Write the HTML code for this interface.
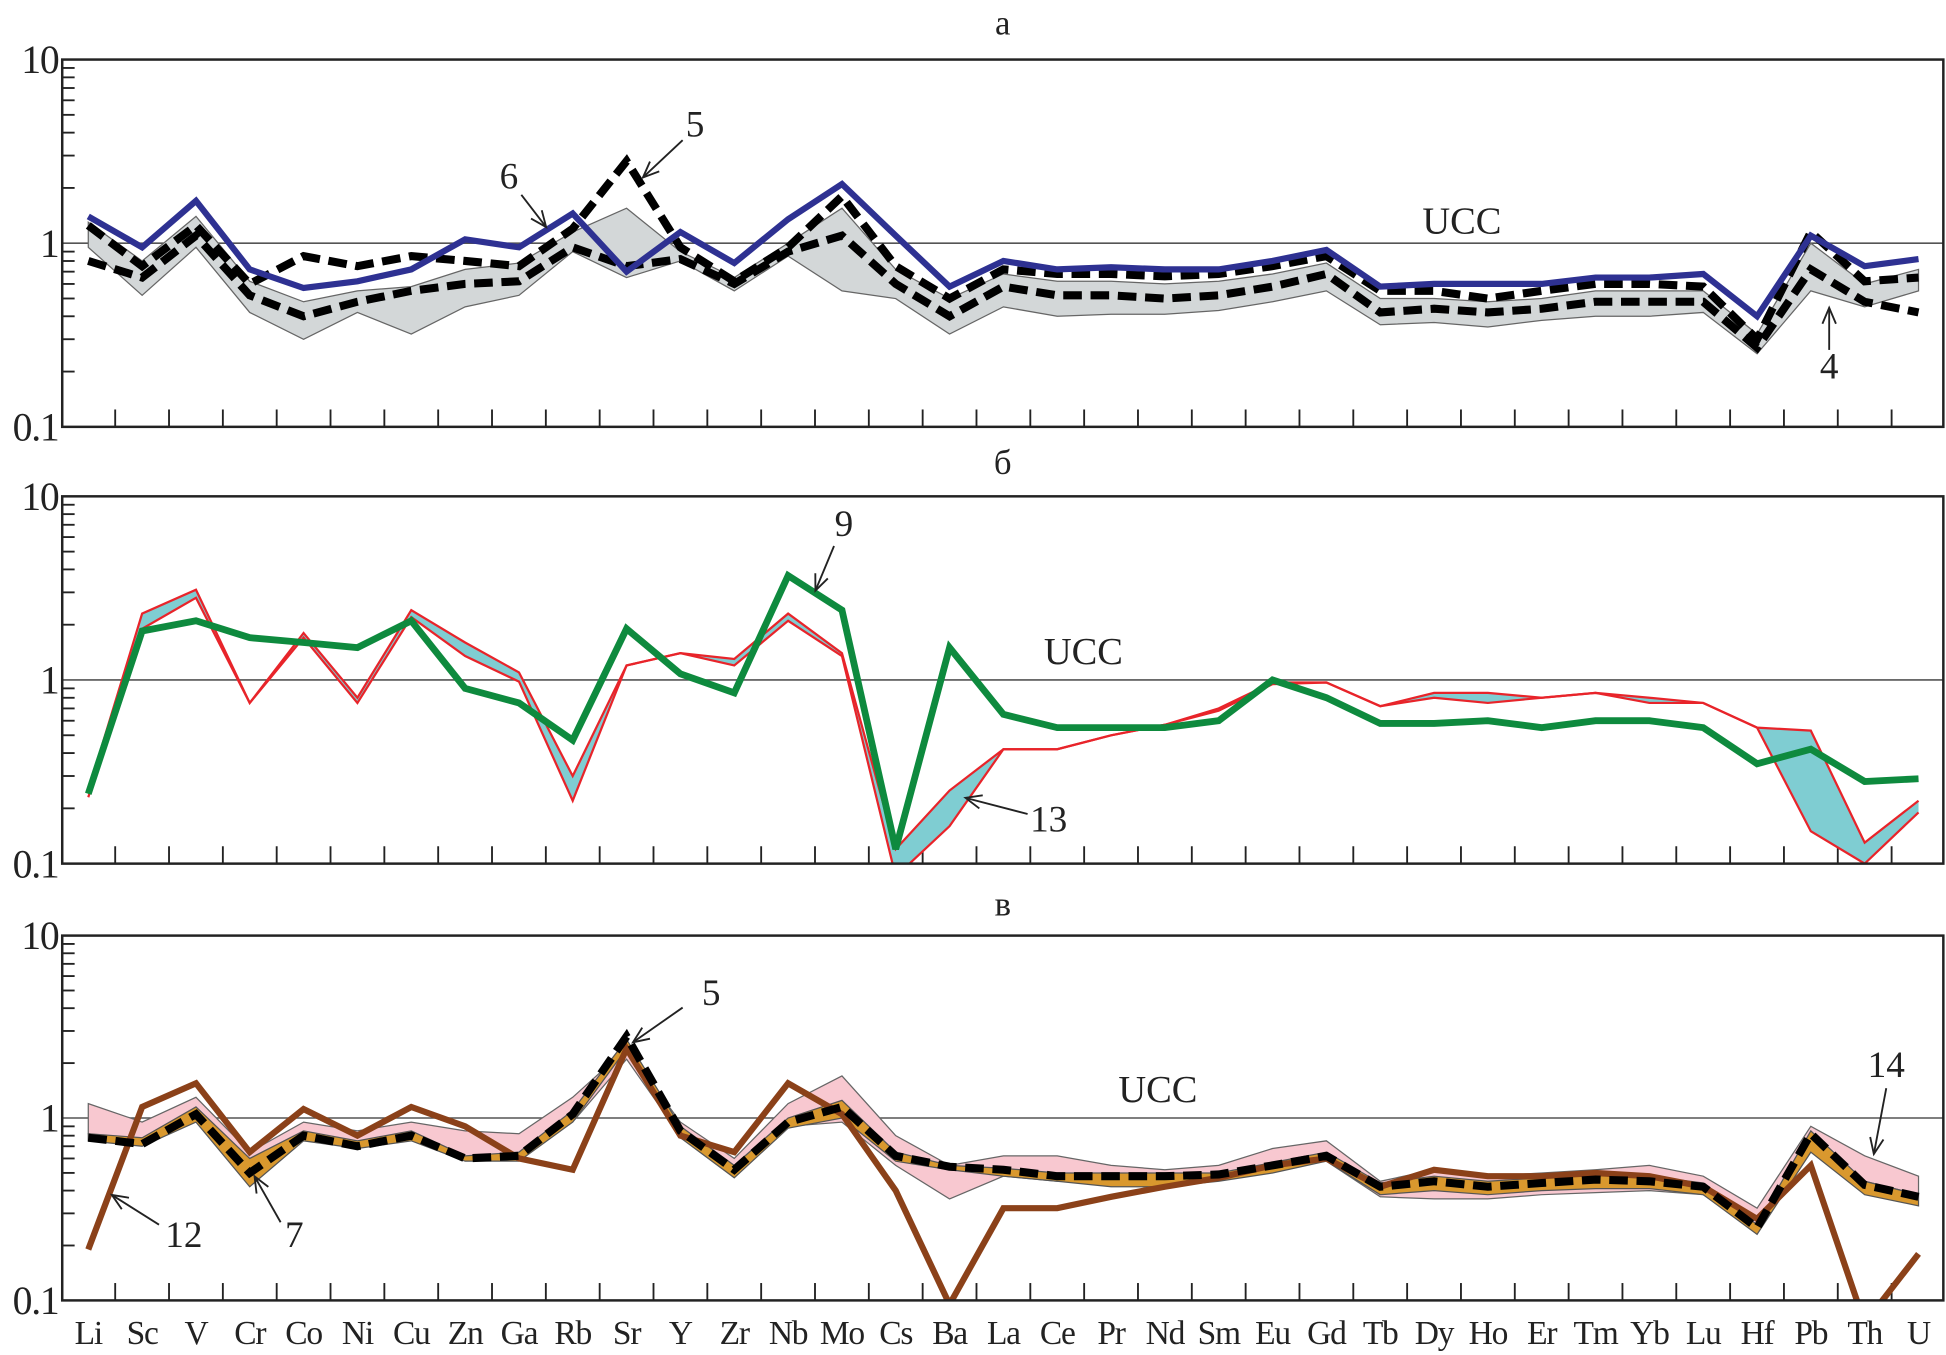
<!DOCTYPE html>
<html><head><meta charset="utf-8"><style>
html,body{margin:0;padding:0;background:#fff}
svg{display:block}
text{font-family:"Liberation Serif",serif;fill:#222}
</style></head><body>
<svg id="chart" xmlns="http://www.w3.org/2000/svg" width="1946" height="1355" viewBox="0 0 1568 1092">
</svg>
<script>
const elements = ["Li","Sc","V","Cr","Co","Ni","Cu","Zn","Ga","Rb","Sr","Y","Zr","Nb","Mo","Cs","Ba","La","Ce","Pr","Nd","Sm","Eu","Gd","Tb","Dy","Ho","Er","Tm","Yb","Lu","Hf","Pb","Th","U"];
const yTickLabels = ["10","1","0.1"];
// Panel a
const a_band_hi = [1.3,0.8,1.4,0.62,0.48,0.55,0.58,0.72,0.78,1.15,1.55,0.9,0.65,1.0,1.55,0.72,0.5,0.68,0.62,0.62,0.6,0.62,0.68,0.78,0.5,0.5,0.48,0.5,0.55,0.55,0.55,0.32,1.0,0.6,0.72];
const a_band_lo = [0.95,0.52,0.95,0.42,0.3,0.42,0.32,0.45,0.52,0.9,0.65,0.8,0.55,0.85,0.55,0.5,0.32,0.45,0.4,0.41,0.41,0.43,0.48,0.55,0.36,0.37,0.35,0.38,0.4,0.4,0.42,0.25,0.55,0.45,0.55];
const a_s6 = [1.4,0.95,1.7,0.72,0.57,0.62,0.72,1.05,0.95,1.45,0.7,1.15,0.78,1.35,2.1,1.1,0.58,0.8,0.72,0.74,0.72,0.72,0.8,0.92,0.58,0.6,0.6,0.6,0.65,0.65,0.68,0.4,1.1,0.75,0.82];
const a_s5 = [1.25,0.75,1.25,0.6,0.85,0.75,0.85,0.8,0.75,1.2,2.8,0.95,0.62,0.95,1.8,0.75,0.5,0.72,0.68,0.68,0.66,0.68,0.75,0.85,0.55,0.55,0.5,0.55,0.6,0.6,0.58,0.3,1.15,0.62,0.65];
const a_s4 = [0.8,0.65,1.1,0.52,0.4,0.48,0.55,0.6,0.62,0.95,0.75,0.82,0.6,0.9,1.1,0.6,0.4,0.58,0.52,0.52,0.5,0.52,0.58,0.68,0.42,0.44,0.42,0.44,0.48,0.48,0.48,0.27,0.72,0.48,0.42];
// Panel b
const b_s9 = [0.24,1.85,2.1,1.7,1.6,1.5,2.1,0.9,0.75,0.47,1.9,1.08,0.85,3.7,2.4,0.12,1.5,0.65,0.55,0.55,0.55,0.6,1.0,0.8,0.58,0.58,0.6,0.55,0.6,0.6,0.55,0.35,0.42,0.28,0.29];
const b_hi = [0.25,2.3,3.1,0.75,1.8,0.8,2.4,1.6,1.1,0.3,1.2,1.4,1.3,2.3,1.4,0.12,0.25,0.42,0.42,0.5,0.57,0.7,0.97,0.97,0.72,0.85,0.85,0.8,0.85,0.8,0.75,0.55,0.53,0.13,0.22];
const b_lo = [0.23,1.9,2.8,0.75,1.7,0.75,2.2,1.35,0.98,0.22,1.2,1.4,1.2,2.1,1.35,0.085,0.16,0.42,0.42,0.5,0.57,0.68,0.95,0.97,0.72,0.8,0.75,0.8,0.85,0.75,0.75,0.55,0.15,0.1,0.19];
// Panel c
const c_s12 = [0.19,1.15,1.55,0.65,1.12,0.8,1.15,0.9,0.6,0.52,2.4,0.8,0.65,1.55,1.05,0.4,0.095,0.32,0.32,0.37,0.42,0.47,0.55,0.6,0.42,0.52,0.48,0.48,0.5,0.48,0.42,0.28,0.55,0.075,0.18];
const c_s5 = [0.78,0.72,1.05,0.5,0.8,0.7,0.8,0.6,0.62,1.05,2.8,0.85,0.52,0.95,1.15,0.62,0.54,0.52,0.48,0.48,0.48,0.49,0.55,0.62,0.42,0.45,0.42,0.44,0.46,0.45,0.42,0.25,0.82,0.43,0.37];
const c_o_hi = [0.82,0.78,1.15,0.6,0.85,0.75,0.85,0.62,0.65,1.1,2.7,0.9,0.55,1.0,1.25,0.65,0.55,0.53,0.5,0.5,0.5,0.5,0.57,0.65,0.44,0.48,0.45,0.47,0.5,0.48,0.44,0.26,0.85,0.45,0.38];
const c_o_lo = [0.75,0.7,0.95,0.42,0.75,0.68,0.75,0.58,0.58,0.95,2.4,0.78,0.47,0.88,1.0,0.58,0.52,0.48,0.45,0.42,0.42,0.45,0.5,0.58,0.38,0.4,0.38,0.4,0.41,0.41,0.38,0.23,0.65,0.38,0.33];
const c_p_hi = [1.2,0.95,1.3,0.65,0.95,0.85,0.95,0.85,0.82,1.3,2.4,0.95,0.6,1.2,1.7,0.8,0.55,0.62,0.62,0.55,0.52,0.55,0.68,0.75,0.45,0.52,0.48,0.5,0.52,0.55,0.48,0.32,0.9,0.62,0.48];
const c_p_lo = [0.82,0.75,1.0,0.45,0.8,0.72,0.8,0.6,0.6,0.95,2.1,0.8,0.48,0.9,0.95,0.55,0.36,0.48,0.45,0.45,0.45,0.47,0.52,0.58,0.37,0.36,0.36,0.38,0.39,0.4,0.38,0.24,0.65,0.45,0.38];

const NS="http://www.w3.org/2000/svg";
const svg=document.getElementById('chart');
function mk(tag,attrs,parent){const e=document.createElementNS(NS,tag);for(const k in attrs)e.setAttribute(k,attrs[k]);(parent||svg).appendChild(e);return e;}
const X0=50,X1=1566;
function xPos(i){return 71+i*(1546-71)/34;}
const panels=[{top:48,bot:344,title:"а",tx:808,ty:28,ucc:[1178,188]},{top:400,bot:696,title:"б",tx:808,ty:382,ucc:[873,535]},{top:754,bot:1048,title:"в",tx:808,ty:738,ucc:[933,888]}];
function yFn(p){return v=>p.bot-(Math.log10(v)+1)*(p.bot-p.top)/2;}
function pts(arr,y){return arr.map((v,i)=>xPos(i).toFixed(1)+","+y(v).toFixed(1)).join(" ");}
function band(hi,lo,y){return pts(hi,y)+" "+lo.map((v,i)=>[xPos(i),y(v)]).reverse().map(p=>p[0].toFixed(1)+","+p[1].toFixed(1)).join(" ");}
const DASH={stroke:'#000','stroke-width':6.5,'stroke-dasharray':'15 7',fill:'none'};

panels.forEach((p,pi)=>{
  const y=yFn(p);
  const g=mk('g',{});
  
  
  const cp=mk('clipPath',{id:'clip'+pi},g);
  mk('rect',{x:X0,y:p.top,width:X1-X0,height:p.bot-p.top},cp);
  const t=mk('text',{x:p.tx,y:p.ty,'font-size':28,'text-anchor':'middle'},g);t.textContent=p.title;
  
  
  const u=mk('line',{x1:X0,x2:X1,y1:y(1),y2:y(1),stroke:'#555','stroke-width':1.3},g);
  
  
  const ut=mk('text',{x:p.ucc[0],y:p.ucc[1],'font-size':31,'text-anchor':'middle'},g);ut.textContent="UCC";
  
  
  [10,1,0.1].forEach((v,k)=>{const tl=mk('text',{x:47,y:y(v)+11,'font-size':32,'text-anchor':'end','letter-spacing':'-1'},g);tl.textContent=yTickLabels[k];
    
    });
  [0.1,1].forEach(d=>{for(let m=2;m<=9;m++){const yy=y(d*m);mk('line',{x1:X0,x2:X0+10,y1:yy,y2:yy,stroke:'#222','stroke-width':1.5},g);}});
  for(let i=0;i<34;i++){const xx=(xPos(i)+xPos(i+1))/2;mk('line',{x1:xx,x2:xx,y1:p.bot,y2:p.bot-14,stroke:'#222','stroke-width':1.5},g);}
  const series=mk('g',{'clip-path':'url(#clip'+pi+')'},g);
  if(pi===0){
    let e;
    e=mk('polygon',{points:band(a_band_hi,a_band_lo,y),fill:'#d3d7d8',stroke:'#666','stroke-width':1},series);
    
    e=mk('polyline',Object.assign({points:pts(a_s4,y)},DASH),series);
    
    e=mk('polyline',Object.assign({points:pts(a_s5,y)},DASH),series);
    
    e=mk('polyline',{points:pts(a_s6,y),fill:'none',stroke:'#2e3192','stroke-width':5},series);
    
  } else if(pi===1){
    let e;
    e=mk('polygon',{points:band(b_hi,b_lo,y),fill:'#7fcdd2',stroke:'none'},series);
    
    e=mk('polyline',{points:pts(b_hi,y),fill:'none',stroke:'#e8242a','stroke-width':1.8},series);
    
    e=mk('polyline',{points:pts(b_lo,y),fill:'none',stroke:'#e8242a','stroke-width':1.8},series);
    
    e=mk('polyline',{points:pts(b_s9,y),fill:'none',stroke:'#0e8a3e','stroke-width':5.5},series);
    
  } else {
    let e;
    e=mk('polygon',{points:band(c_p_hi,c_p_lo,y),fill:'#f8c8d0',stroke:'#666','stroke-width':1},series);
    
    e=mk('polygon',{points:band(c_o_hi,c_o_lo,y),fill:'#d9982e',stroke:'#555','stroke-width':1},series);
    
    e=mk('polyline',{points:pts(c_s12,y),fill:'none',stroke:'#8b4119','stroke-width':5},series);
    
    e=mk('polyline',Object.assign({points:pts(c_s5,y)},DASH),series);
    
  }
  const fr=mk('rect',{x:X0,y:p.top,width:X1-X0,height:p.bot-p.top,fill:'none',stroke:'#222','stroke-width':2},g);
  
  
});
elements.forEach((el,i)=>{const t=mk('text',{x:xPos(i),y:1083,'font-size':27,'text-anchor':'middle','letter-spacing':'-1'});t.textContent=el;
  
  });
const ann=[["6",410,152,420,157,440,183],["5",560,110,550,113,518,143],["4",1474,305,1474,282,1474,248],["9",680,432,672,440,657,476],["13",845,670,828,656,778,643],["5",573,810,550,812,510,840],["12",148,1005,128,987,90,963],["7",237,1005,226,985,205,948],["14",1520,868,1520,877,1510,930]];
ann.forEach(a=>{
  const t=mk('text',{x:a[1],y:a[2],'font-size':30,'text-anchor':'middle'});t.textContent=a[0];
  
  
  const l=mk('line',{x1:a[3],y1:a[4],x2:a[5],y2:a[6],stroke:'#222','stroke-width':1.5});
  
  
  const ang=Math.atan2(a[6]-a[4],a[5]-a[3]);
  const L=14,w=0.4;
  const p1=[a[5]-L*Math.cos(ang-w),a[6]-L*Math.sin(ang-w)],p2=[a[5]-L*Math.cos(ang+w),a[6]-L*Math.sin(ang+w)];
  mk('polyline',{points:`${p1[0]},${p1[1]} ${a[5]},${a[6]} ${p2[0]},${p2[1]}`,fill:'none',stroke:'#222','stroke-width':1.5});
});
</script>
</body></html>
